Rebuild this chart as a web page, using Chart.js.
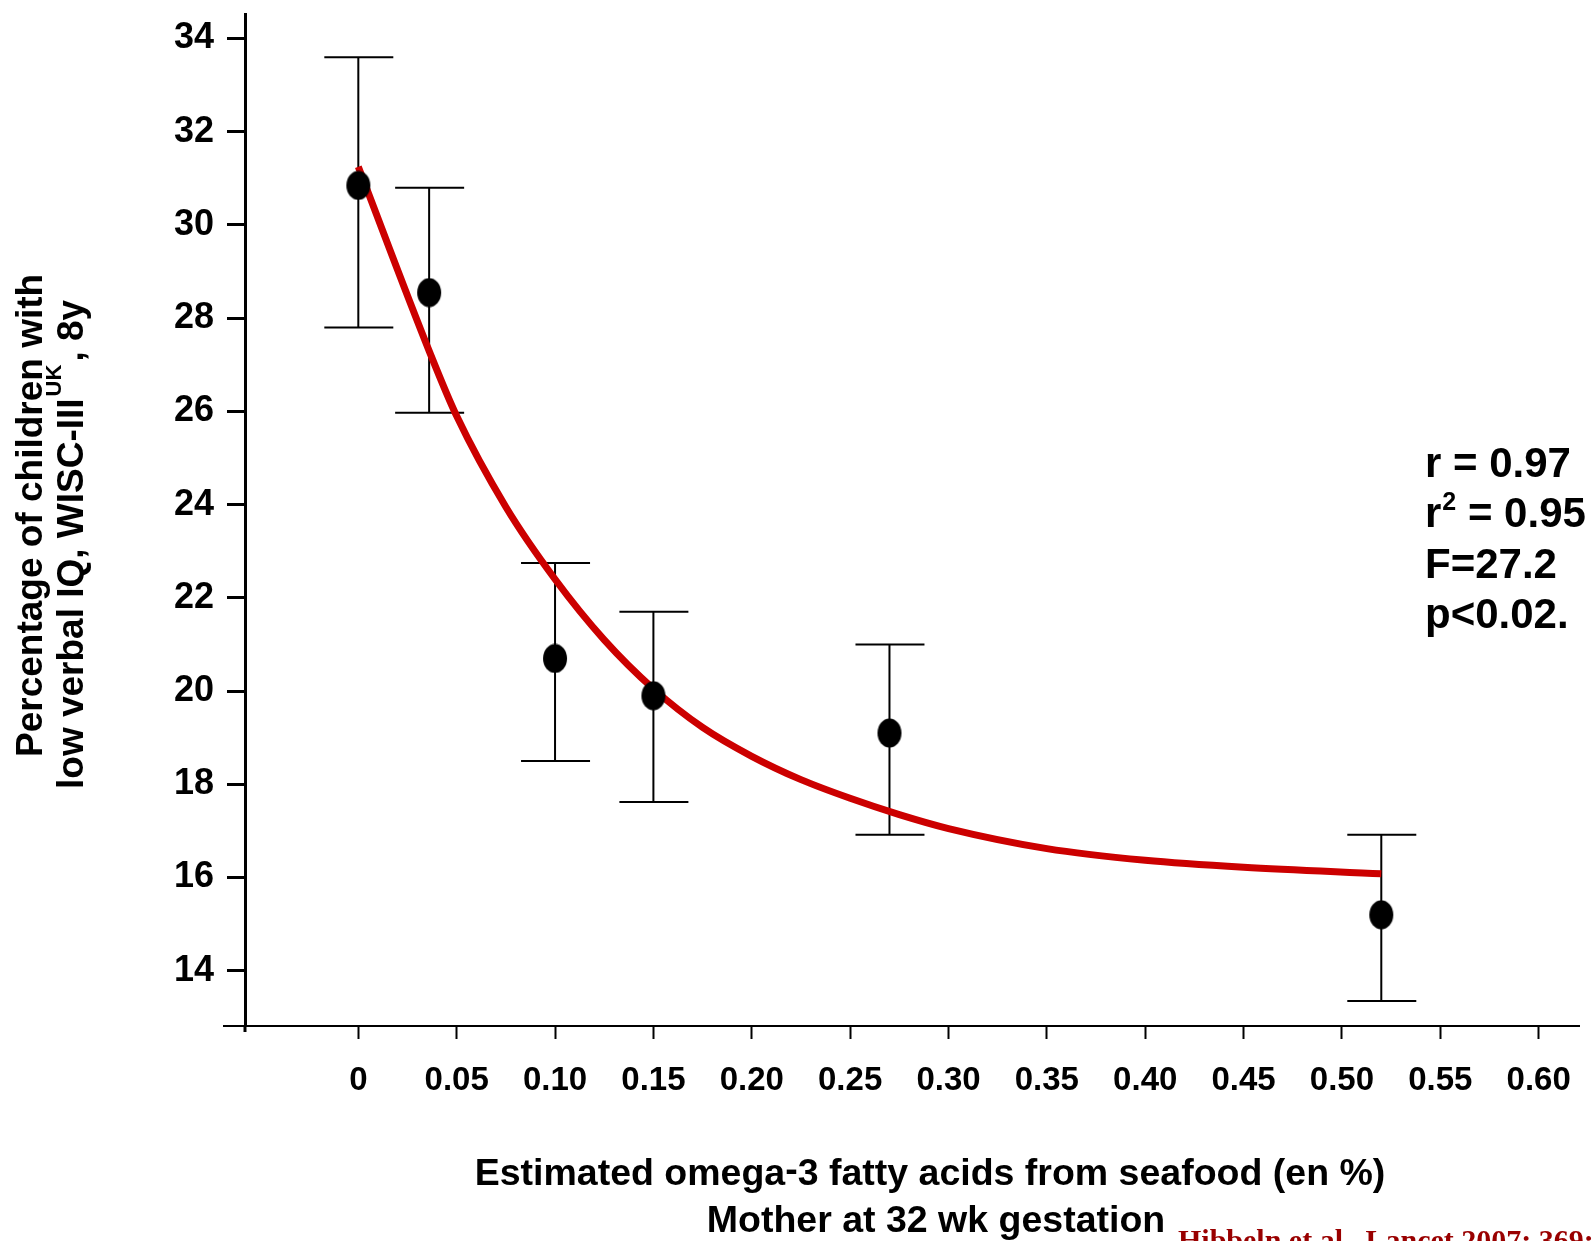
<!DOCTYPE html>
<html>
<head>
<meta charset="utf-8">
<script src="https://cdn.jsdelivr.net/npm/chart.js@4.4.1/dist/chart.umd.min.js"></script>
<style>
  html, body { margin: 0; padding: 0; background: #fff; }
</style>
</head>
<body>
<canvas id="chart" width="1593" height="1241"></canvas>
<script>
// group means (estimated omega-3 from seafood, en %) and % low verbal IQ
const omega3 = [0.0, 0.036, 0.10, 0.15, 0.27, 0.52];
const lowIQPct = [30.85, 28.55, 20.7, 19.9, 19.1, 15.2];
const errHigh = [33.6, 30.8, 22.75, 21.7, 21.0, 16.92];
const errLow = [27.8, 25.97, 18.5, 17.62, 16.92, 13.35];

// fitted curve, points
const fitX = [0.0, 0.036, 0.05, 0.075, 0.10, 0.125, 0.15, 0.175, 0.20, 0.225, 0.25, 0.275, 0.30, 0.35, 0.40, 0.45, 0.52];
const fitY = [31.25, 27.3, 25.9, 23.95, 22.4, 21.1, 20.05, 19.22, 18.6, 18.1, 17.7, 17.35, 17.05, 16.62, 16.37, 16.22, 16.08];

const xTicks = [0, 0.05, 0.10, 0.15, 0.20, 0.25, 0.30, 0.35, 0.40, 0.45, 0.50, 0.55, 0.60];
const xTickLabels = ['0', '0.05', '0.10', '0.15', '0.20', '0.25', '0.30', '0.35', '0.40', '0.45', '0.50', '0.55', '0.60'];
const yTicks = [14, 16, 18, 20, 22, 24, 26, 28, 30, 32, 34];

const stats = ['r = 0.97', 'r2 = 0.95', 'F=27.2', 'p<0.02.'];

const SANS = "'Liberation Sans', Arial, sans-serif";
const SERIF = "'Liberation Serif', 'Times New Roman', serif";

// black oval marker
const dot = document.createElement('canvas');
dot.width = 26; dot.height = 30;
(function () {
  const c = dot.getContext('2d');
  c.fillStyle = '#000';
  c.beginPath();
  c.ellipse(13, 15, 12, 14.5, 0, 0, Math.PI * 2);
  c.fill();
})();

const errorBars = {
  id: 'errorBars',
  beforeDatasetsDraw(chart) {
    const { ctx, scales: { x, y } } = chart;
    ctx.save();
    ctx.strokeStyle = '#000';
    ctx.lineWidth = 2;
    omega3.forEach((v, i) => {
      const px = x.getPixelForValue(v);
      const top = y.getPixelForValue(errHigh[i]);
      const bot = y.getPixelForValue(errLow[i]);
      ctx.beginPath();
      ctx.moveTo(px, top); ctx.lineTo(px, bot);
      ctx.moveTo(px - 34, top); ctx.lineTo(px + 35, top);
      ctx.moveTo(px - 34, bot); ctx.lineTo(px + 35, bot);
      ctx.stroke();
    });
    ctx.restore();
  }
};

const texts = {
  id: 'texts',
  afterDraw(chart) {
    const { ctx, chartArea } = chart;
    ctx.save();
    ctx.fillStyle = '#000';

    // axis line stubs past the origin
    ctx.strokeStyle = '#000';
    ctx.lineWidth = 2;
    ctx.beginPath();
    ctx.moveTo(223, chartArea.bottom); ctx.lineTo(chartArea.left, chartArea.bottom);
    ctx.stroke();
    ctx.lineWidth = 3;
    ctx.beginPath();
    ctx.moveTo(chartArea.left, chartArea.bottom); ctx.lineTo(chartArea.left, chartArea.bottom + 6);
    ctx.stroke();

    // stats block
    ctx.textBaseline = 'alphabetic';
    ctx.textAlign = 'left';
    const big = 'bold 42px ' + SANS;
    const sup = 'bold 25px ' + SANS;
    const base = [477, 527, 578, 628];
    stats.forEach((s, i) => {
      ctx.font = big;
      if (s.startsWith('r2')) {
        ctx.fillText('r', 1425, base[i]);
        let w = ctx.measureText('r').width;
        ctx.font = sup;
        ctx.fillText('2', 1425 + w + 1, base[i] - 17);
        w += ctx.measureText('2').width + 1;
        ctx.font = big;
        ctx.fillText(s.slice(2), 1425 + w, base[i]);
      } else {
        ctx.fillText(s, 1425, base[i]);
      }
    });

    // x title
    ctx.font = 'bold 37.5px ' + SANS;
    const p1 = 'Estimated omega', p2 = '-', p3 = '3 fatty acids from seafood (en %)';
    const w1 = ctx.measureText(p1).width, w2 = ctx.measureText(p2).width, w3 = ctx.measureText(p3).width;
    const sx = 930 - (w1 + w2 + w3) / 2;
    ctx.fillText(p1, sx, 1185);
    ctx.fillText(p2, sx + w1, 1181);
    ctx.fillText(p3, sx + w1 + w2, 1185);
    ctx.textAlign = 'center';
    ctx.fillText('Mother at 32 wk gestation', 936, 1232);

    // citation, cut by the bottom edge
    ctx.textAlign = 'left';
    ctx.fillStyle = '#990000';
    ctx.font = 'bold 30px ' + SERIF;
    ctx.fillText('Hibbeln et al.  Lancet 2007; 369: 578-85', 1178, 1250);

    // y title (rotated)
    ctx.fillStyle = '#000';
    ctx.font = 'bold 37px ' + SANS;
    ctx.save();
    ctx.translate(42, 757);
    ctx.rotate(-Math.PI / 2);
    ctx.fillText('Percentage of children with', 0, 0);
    ctx.restore();

    ctx.save();
    ctx.translate(83, 789);
    ctx.rotate(-Math.PI / 2);
    const a = 'low verbal IQ, WISC-III';
    ctx.fillText(a, 0, 0);
    let off = ctx.measureText(a).width + 2;
    ctx.font = 'bold 22px ' + SANS;
    ctx.fillText('UK', off, -22);
    off += ctx.measureText('UK').width + 3;
    ctx.font = 'bold 37px ' + SANS;
    ctx.fillText(', 8y', off, 0);
    ctx.restore();

    ctx.restore();
  }
};

new Chart(document.getElementById('chart'), {
  type: 'scatter',
  data: {
    datasets: [
      {
        label: 'Low verbal IQ',
        data: omega3.map((v, i) => ({ x: v, y: lowIQPct[i] })),
        pointStyle: dot,
        pointRadius: 13,
        showLine: false
      },
      {
        label: 'Fit',
        type: 'line',
        data: fitX.map((v, i) => ({ x: v, y: fitY[i] })),
        borderColor: '#cc0000',
        borderWidth: 7,
        pointRadius: 0,
        fill: false,
        cubicInterpolationMode: 'monotone'
      }
    ]
  },
  options: {
    responsive: false,
    animation: false,
    layout: { padding: { top: 12, left: 0, right: 0, bottom: 0 } },
    plugins: { legend: { display: false }, tooltip: { enabled: false } },
    scales: {
      x: {
        type: 'linear',
        min: -0.0576,
        max: 0.6205,
        afterBuildTicks: (s) => { s.ticks = xTicks.map(v => ({ value: v })); },
        afterFit: (s) => { s.height = 215; s.paddingLeft = 0; s.paddingRight = 0; },
        ticks: {
          autoSkip: false,
          maxRotation: 0,
          padding: 22,
          color: '#000',
          font: { family: SANS, size: 33, weight: 'bold' },
          callback: (v) => {
            const i = xTicks.findIndex(t => Math.abs(t - v) < 1e-9);
            return i >= 0 ? xTickLabels[i] : '';
          }
        },
        grid: { drawOnChartArea: false, drawTicks: true, tickLength: 13, tickWidth: 2, tickColor: '#000' },
        border: { display: true, color: '#000', width: 2 }
      },
      y: {
        min: 12.814,
        max: 34.527,
        afterBuildTicks: (s) => { s.ticks = yTicks.map(v => ({ value: v })); },
        afterFit: (s) => { s.width = 245; s.paddingTop = 0; s.paddingBottom = 0; },
        ticks: {
          padding: 13,
          color: '#000',
          font: { family: SANS, size: 36, weight: 'bold' }
        },
        grid: { drawOnChartArea: false, drawTicks: true, tickLength: 18, tickWidth: 3, tickColor: '#000' },
        border: { display: true, color: '#000', width: 3 }
      }
    }
  },
  plugins: [errorBars, texts]
});
</script>
</body>
</html>
